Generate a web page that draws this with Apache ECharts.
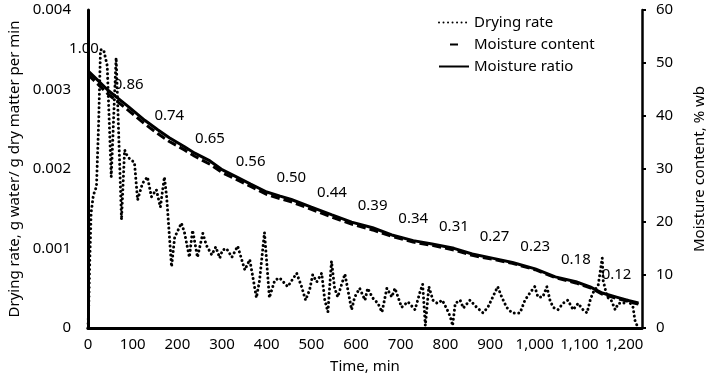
<!DOCTYPE html>
<html>
<head>
<meta charset="utf-8">
<script src="https://cdn.jsdelivr.net/npm/echarts@6/dist/echarts.min.js"></script>
<style>
  html, body { margin: 0; padding: 0; background: #fff; }
  #chart { width: 707px; height: 381px; }
</style>
</head>
<body>
<div id="chart"></div>
<script>
// drying rate, g water / g dry matter per min
const rateTime = [0, 2, 4, 7, 12, 19, 24, 28, 35, 43, 52, 63, 75, 82, 89, 104, 111, 122, 133, 142, 153, 162, 171, 176, 187, 194, 209, 216, 227, 234, 239, 245, 257, 265, 277, 286, 295, 301, 310, 322, 335, 344, 351, 362, 369, 377, 384, 395, 406, 418, 429, 447, 467, 478, 487, 496, 503, 512, 523, 530, 537, 545, 552, 559, 575, 581, 590, 597, 608, 620, 626, 637, 649, 658, 669, 680, 687, 702, 716, 732, 743, 749, 755, 763, 772, 782, 793, 804, 811, 816, 822, 833, 840, 855, 870, 884, 895, 906, 917, 926, 937, 949, 967, 978, 989, 1000, 1007, 1018, 1027, 1034, 1041, 1052, 1063, 1074, 1086, 1097, 1108, 1117, 1124, 1130, 1142, 1151, 1153, 1162, 1171, 1180, 1187, 1198, 1209, 1220, 1224, 1229];
const rateValue = [0, 0.00035, 0.00086, 0.00145, 0.00167, 0.00178, 0.0026, 0.0035, 0.0035, 0.0033, 0.0019, 0.0034, 0.00136, 0.00224, 0.00215, 0.00208, 0.00161, 0.00182, 0.0019, 0.00165, 0.00174, 0.00152, 0.0019, 0.00165, 0.00077, 0.00114, 0.00132, 0.0012, 0.00089, 0.00123, 0.00108, 0.00089, 0.00119, 0.00104, 0.00092, 0.00102, 0.00088, 0.00098, 0.001, 0.00089, 0.00103, 0.00086, 0.00073, 0.00086, 0.00064, 0.00038, 0.0006, 0.0012, 0.00038, 0.0006, 0.00063, 0.00052, 0.00069, 0.00052, 0.00035, 0.00048, 0.00067, 0.00058, 0.00069, 0.00035, 0.0002, 0.00084, 0.0005, 0.00039, 0.00068, 0.0005, 0.00023, 0.00039, 0.0005, 0.00035, 0.0005, 0.00038, 0.00031, 0.0002, 0.0005, 0.00039, 0.0005, 0.00026, 0.00033, 0.00023, 0.00045, 0.00055, 0.00003, 0.00052, 0.00035, 0.00031, 0.00035, 0.00023, 0.00014, 0.00003, 0.00031, 0.00035, 0.00025, 0.00035, 0.00026, 0.00019, 0.00026, 0.00039, 0.00052, 0.00039, 0.00026, 0.00019, 0.00019, 0.00035, 0.00044, 0.00052, 0.00039, 0.00039, 0.00052, 0.00035, 0.00026, 0.00023, 0.00031, 0.00035, 0.00023, 0.00031, 0.00023, 0.00019, 0.00035, 0.00044, 0.00054, 0.00088, 0.0006, 0.00039, 0.00035, 0.00023, 0.00031, 0.00031, 0.00035, 0.00026, 0.0001, 0.00003];

// moisture content (% wb) and moisture ratio share the same time points
const curveTime = [0, 21, 44, 66, 91, 127, 156, 182, 216, 239, 273, 301, 330, 364, 400, 430, 455, 500, 546, 590, 637, 680, 728, 770, 819, 860, 910, 950, 1001, 1046, 1092, 1124, 1151, 1183, 1209, 1232];
const moistureContent = [47.8, 46.1, 44.2, 42.7, 41.0, 38.5, 36.7, 35.2, 33.6, 32.4, 30.9, 29.3, 28.1, 26.7, 25.2, 24.4, 23.8, 22.4, 20.9, 19.6, 18.5, 17.3, 16.2, 15.6, 14.7, 13.7, 12.9, 12.2, 11.0, 9.5, 8.5, 7.6, 6.4, 5.6, 5.0, 4.5];
const moistureRatio = [1.00, 0.965, 0.926, 0.895, 0.86, 0.808, 0.771, 0.74, 0.705, 0.68, 0.65, 0.615, 0.59, 0.56, 0.529, 0.513, 0.50, 0.47, 0.44, 0.412, 0.39, 0.362, 0.34, 0.327, 0.31, 0.288, 0.27, 0.255, 0.23, 0.199, 0.18, 0.16, 0.136, 0.12, 0.107, 0.097];
// points of the ratio curve that carry a data label
const ratioLabelTime = [0, 91, 182, 273, 364, 455, 546, 637, 728, 819, 910, 1001, 1092, 1183];

const seriesNames = ['Drying rate', 'Moisture content', 'Moisture ratio'];

const FONT = 'Noto Sans';
const zip = (xs, ys) => xs.map((x, i) => [x, ys[i]]);

const ratioData = curveTime.map((t, i) => {
  const item = { value: [t, moistureRatio[i]] };
  if (t === 0) item.label = { offset: [-4, 0] }; // first label sits a bit left in the original
  return item;
});

const chart = echarts.init(document.getElementById('chart'));
const option = {
  animation: false,
  textStyle: { fontFamily: FONT, color: '#000' },
  grid: { left: 88, right: 65, top: 10, bottom: 53, outerBoundsMode: 'none' },
  legend: {
    orient: 'vertical',
    left: 433,
    top: 10,
    itemWidth: 30,
    itemHeight: 14,
    itemGap: 7,
    itemStyle: { color: 'rgba(0,0,0,0)', borderWidth: 0 }, // line only, no marker
    textStyle: { fontFamily: FONT, fontSize: 15, color: '#000' },
    data: [
      { name: seriesNames[0] },
      { name: seriesNames[1], lineStyle: { type: [0, 11, 8, 30] } },
      { name: seriesNames[2] },
    ],
  },
  xAxis: {
    type: 'value',
    min: 0,
    max: 1240,
    interval: 100,
    name: 'Time, min',
    nameLocation: 'middle',
    nameGap: 31,
    nameTextStyle: { fontSize: 15, color: '#000' },
    axisLine: { lineStyle: { color: '#000', width: 3 } },
    axisTick: { show: false },
    splitLine: { show: false },
    axisLabel: {
      fontSize: 15,
      color: '#000',
      margin: 9,
      showMaxLabel: false,
      formatter: (v) => v.toLocaleString('en-US'),
    },
  },
  yAxis: [
    {
      type: 'value',
      position: 'left',
      min: 0,
      max: 0.004,
      interval: 0.001,
      name: 'Drying rate, g water/ g dry matter per min',
      nameLocation: 'middle',
      nameGap: 64,
      nameTextStyle: { fontSize: 15, color: '#000' },
      axisLine: { show: true, lineStyle: { color: '#000', width: 3 } },
      axisTick: { show: false },
      splitLine: { show: false },
      axisLabel: {
        fontSize: 15,
        color: '#000',
        margin: 17,
        formatter: (v) => (v === 0 ? '0' : v.toFixed(3)),
      },
    },
    {
      type: 'value',
      position: 'right',
      min: 0,
      max: 60,
      interval: 10,
      name: 'Moisture content, % wb',
      nameLocation: 'middle',
      nameGap: 50,
      nameTextStyle: { fontSize: 15, color: '#000' },
      axisLine: { show: true, lineStyle: { color: '#000', width: 2.5 } },
      axisTick: { show: true, length: 4, lineStyle: { color: '#000', width: 2 } },
      splitLine: { show: false },
      axisLabel: { fontSize: 15, color: '#000', margin: 14 },
    },
    {
      // hidden scale for the moisture ratio curve
      type: 'value',
      position: 'right',
      min: 0,
      max: 60 / 48.5,
      show: false,
      splitLine: { show: false },
    },
  ],
  series: [
    {
      name: seriesNames[0],
      type: 'line',
      yAxisIndex: 0,
      data: zip(rateTime, rateValue),
      symbol: 'none',
      lineStyle: { color: '#000', width: 3, type: [0.01, 4.5], cap: 'round' },
      itemStyle: { color: '#000' },
    },
    {
      name: seriesNames[1],
      type: 'line',
      yAxisIndex: 1,
      data: zip(curveTime, moistureContent),
      symbol: 'none',
      lineStyle: { color: '#000', width: 3, type: [9, 4] },
      itemStyle: { color: '#000' },
    },
    {
      name: seriesNames[2],
      type: 'line',
      yAxisIndex: 2,
      data: ratioData,
      symbol: 'circle',
      symbolSize: 1,
      showSymbol: true,
      lineStyle: { color: '#000', width: 3 },
      itemStyle: { color: '#000' },
      label: {
        show: true,
        position: 'top',
        distance: 14,
        fontFamily: FONT,
        fontSize: 15,
        color: '#000',
        formatter: (p) => (ratioLabelTime.includes(p.value[0]) ? p.value[1].toFixed(2) : ''),
      },
    },
  ],
};
chart.setOption(option);
window.addEventListener('resize', () => chart.resize());
</script>
</body>
</html>
